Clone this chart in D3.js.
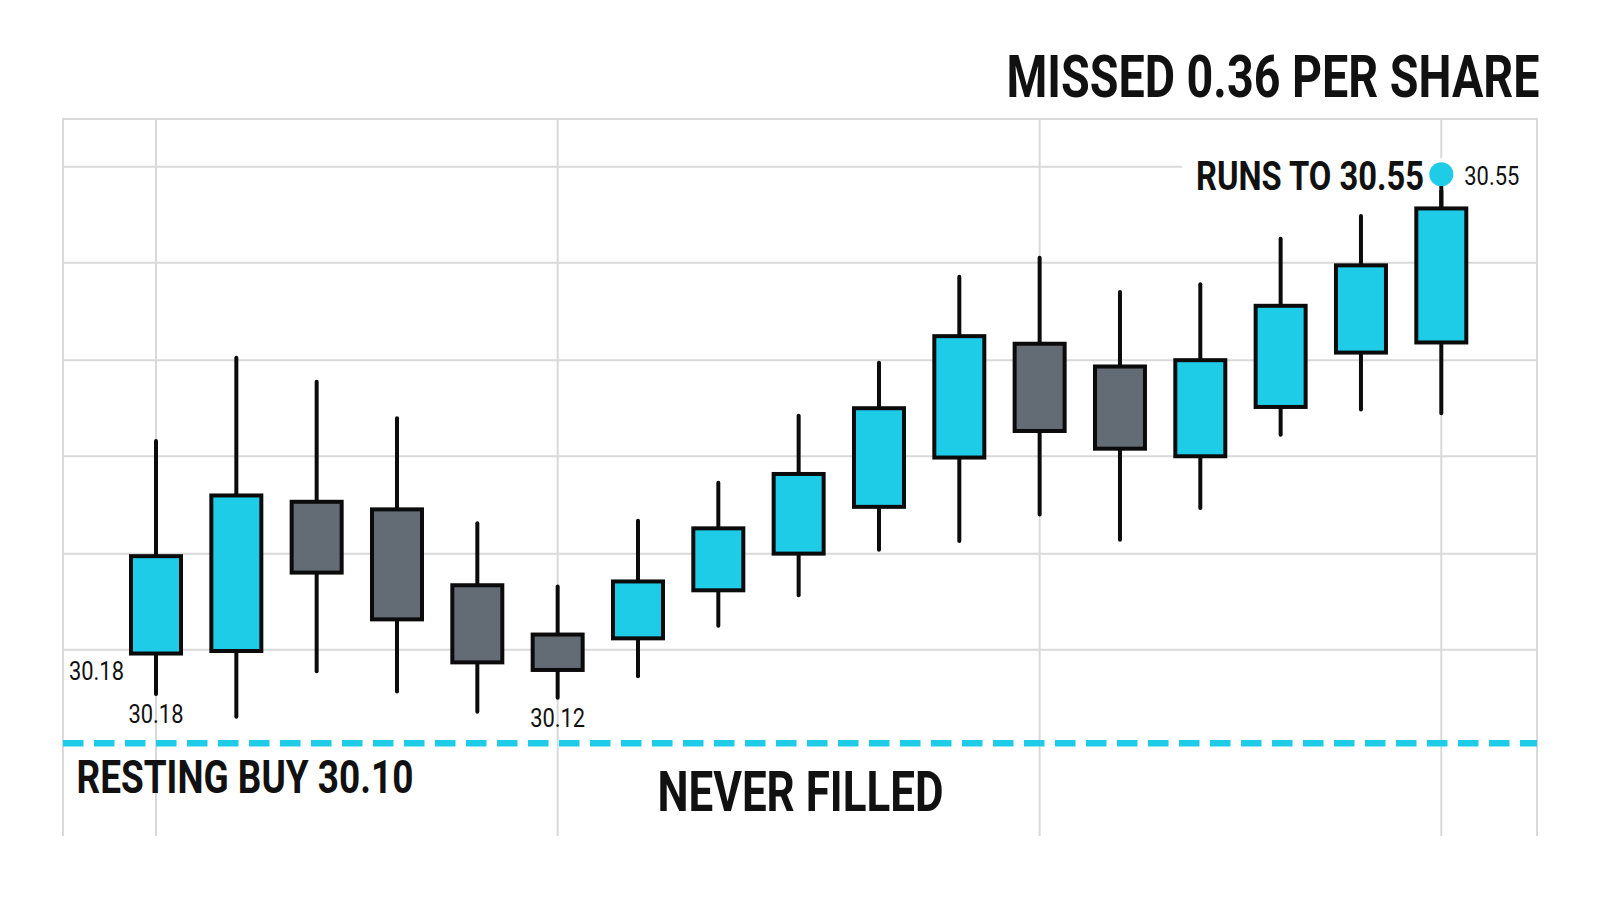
<!DOCTYPE html>
<html>
<head>
<meta charset="utf-8">
<script src="https://cdn.jsdelivr.net/npm/d3@7"></script>
<style>
  html, body { margin: 0; padding: 0; background: #ffffff; }
  svg { display: block; }
  text { font-family: Roboto, "Noto Sans", sans-serif; fill: #111111; }
</style>
</head>
<body>
<svg id="chart" width="1600" height="914"></svg>
<script>
// ---- data ----
const candleIndex = [0,1,2,3,4,5,6,7,8,9,10,11,12,13,14,15,16];
const opens  = [30.171,30.173,30.291,30.285,30.225,30.186,30.183,30.221,30.250,30.287,30.326,30.416,30.398,30.327,30.366,30.409,30.417];
const highs  = [30.339,30.405,30.386,30.357,30.274,30.224,30.276,30.306,30.359,30.401,30.469,30.484,30.457,30.463,30.499,30.517,30.550];
const lows   = [30.139,30.121,30.157,30.141,30.125,30.136,30.153,30.193,30.217,30.253,30.260,30.281,30.261,30.286,30.344,30.364,30.361];
const closes = [30.248,30.296,30.235,30.198,30.164,30.158,30.228,30.270,30.313,30.365,30.422,30.347,30.333,30.403,30.446,30.478,30.523];
const gridValues = [30.174, 30.250, 30.327, 30.403, 30.480, 30.556];
const verticalGridIndex = [0, 5, 11, 16];
const restingBuy = 30.10;
const runHigh = 30.55;
const titleText = "MISSED 0.36 PER SHARE";
const runLabel = "RUNS TO 30.55";
const runValueLabel = "30.55";
const restingLabel = "RESTING BUY 30.10";
const neverLabel = "NEVER FILLED";
const priceLabels = [
  { text: "30.18", idx: 0, kind: "openLeft" },
  { text: "30.18", idx: 0, kind: "low" },
  { text: "30.12", idx: 5, kind: "low" }
];

// ---- layout ----
const plot = { left: 63, right: 1537, top: 119, bottom: 836 };
const svg = d3.select("#chart");

const x = d3.scaleLinear().domain([0, 16]).range([156, 1441.3]);
const y = d3.scaleLinear().domain([restingBuy, runHigh]).range([743.3, 174.3]);

const cyan = "#1fcce8";
const gray = "#636b75";
const gridColor = "#d9d9d9";

svg.append("rect").attr("width", 1600).attr("height", 914).attr("fill", "#ffffff");

// condensed text helper: horizontal scale so the text spans `width`
function fitText(tx, ty, str, size, weight, width, anchor) {
  const g = svg.append("g");
  const t = g.append("text")
    .attr("x", 0).attr("y", 0)
    .attr("font-size", size).attr("font-weight", weight)
    .text(str);
  const natural = t.node().getComputedTextLength();
  const s = width / natural;
  let x0 = tx;
  if (anchor === "middle") x0 = tx - width / 2;
  else if (anchor === "end") x0 = tx - width;
  g.attr("transform", `translate(${x0},${ty}) scale(${s},1)`);
  return g;
}

// grid
const grid = svg.append("g");
grid.selectAll("line.h").data(gridValues).enter().append("line")
  .attr("x1", plot.left).attr("x2", plot.right)
  .attr("y1", d => y(d)).attr("y2", d => y(d))
  .attr("stroke", gridColor).attr("stroke-width", 2);
grid.selectAll("line.v").data(verticalGridIndex).enter().append("line")
  .attr("x1", d => x(d)).attr("x2", d => x(d))
  .attr("y1", plot.top).attr("y2", plot.bottom)
  .attr("stroke", gridColor).attr("stroke-width", 2);
grid.append("path")
  .attr("d", `M${plot.left},${plot.bottom}V${plot.top}H${plot.right}V${plot.bottom}`)
  .attr("fill", "none").attr("stroke", gridColor).attr("stroke-width", 2);

// resting buy dashed line
svg.append("line")
  .attr("x1", plot.left).attr("x2", plot.right)
  .attr("y1", y(restingBuy)).attr("y2", y(restingBuy))
  .attr("stroke", cyan).attr("stroke-width", 6.5)
  .attr("stroke-dasharray", "20.5 10.5");

// candles
const data = candleIndex.map(i => ({ i, o: opens[i], h: highs[i], l: lows[i], c: closes[i] }));
const bodyW = 50;
const cg = svg.append("g");
cg.selectAll("line.wick").data(data).enter().append("line")
  .attr("x1", d => x(d.i)).attr("x2", d => x(d.i))
  .attr("y1", d => y(d.h)).attr("y2", d => y(d.l))
  .attr("stroke", "#0b0b0b").attr("stroke-width", 4).attr("stroke-linecap", "round");
cg.selectAll("rect.body").data(data).enter().append("rect")
  .attr("x", d => x(d.i) - bodyW / 2)
  .attr("width", bodyW)
  .attr("y", d => y(Math.max(d.o, d.c)))
  .attr("height", d => Math.abs(y(d.o) - y(d.c)))
  .attr("fill", d => d.c >= d.o ? cyan : gray)
  .attr("stroke", "#0b0b0b").attr("stroke-width", 4);

// price annotations
priceLabels.forEach(p => {
  const d = data[p.idx];
  let tx, ty;
  if (p.kind === "openLeft") { tx = x(d.i) - 59.5; ty = y(d.o) + 26; }
  else { tx = x(d.i); ty = y(d.l) + 29.5; }
  fitText(tx, ty, p.text, 26, 400, 55, "middle");
});

// labels
fitText(76.5, y(restingBuy) + 50, restingLabel, 47, 700, 337, "start");
fitText(657.5, y(restingBuy) + 67.7, neverLabel, 55, 700, 286, "start");
fitText(1539.5, 96.5, titleText, 60, 700, 533, "end");

// run label with white backing
const last = data[data.length - 1];
const dotX = x(last.i), dotY = y(runHigh);
svg.append("rect")
  .attr("x", 1182).attr("y", dotY - 16)
  .attr("width", plot.right - 1183).attr("height", 32)
  .attr("fill", "#ffffff");
svg.append("line")
  .attr("x1", dotX).attr("x2", dotX)
  .attr("y1", dotY).attr("y2", y(last.c))
  .attr("stroke", "#0b0b0b").attr("stroke-width", 4);
fitText(1196, dotY + 15.7, runLabel, 41, 700, 228, "start");
svg.append("circle")
  .attr("cx", dotX).attr("cy", dotY).attr("r", 12)
  .attr("fill", cyan);
fitText(dotX + 23, dotY + 10.7, runValueLabel, 26, 400, 55, "start");
</script>
</body>
</html>
